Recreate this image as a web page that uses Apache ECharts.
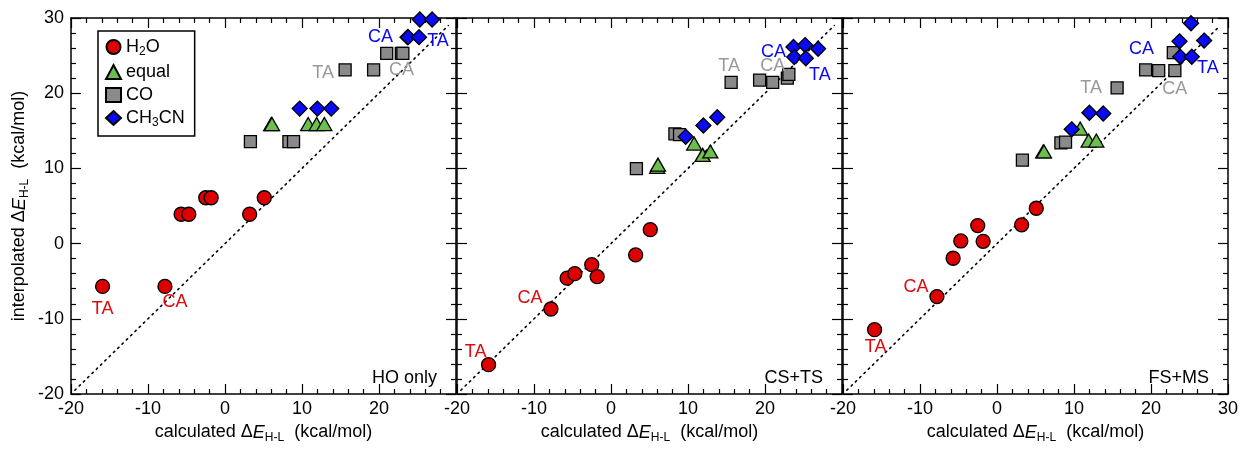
<!DOCTYPE html>
<html><head><meta charset="utf-8">
<script src="https://cdn.jsdelivr.net/npm/echarts@6/dist/echarts.min.js"></script>
<style>html,body{margin:0;padding:0;background:#fff}#c{width:1241px;height:449px}</style>
</head><body><div id="c"></div><script>
// ---- data ----
const panelNames = ['HO only', 'CS+TS', 'FS+MS'];
const seriesNames = ['H2O', 'equal', 'CO', 'CH3CN'];
const axisMin = -20, axisMax = 30, axisStep = 10;
const diagonal = [-19.5, 29];

const h2oX      = [-15.9, -7.8, -5.7, -4.7, -2.5, -1.8, 3.2, 5.1];
const h2oY_HO   = [-5.7, -5.7, 3.9, 3.9, 6.1, 6.1, 3.9, 6.1];
const h2oY_CS   = [-16.1, -8.7, -4.6, -4.0, -2.8, -4.4, -1.5, 1.85];
const h2oY_FS   = [-11.45, -7.05, -1.95, 0.35, 2.4, 0.3, 2.5, 4.7];

const equalX    = [6.0, 6.1, 10.8, 11.9, 12.9];
const equalY_HO = [15.9, 15.9, 15.9, 15.9, 15.9];
const equalY_CS = [10.2, 10.5, 13.3, 11.8, 12.25];
const equalY_FS = [12.25, 12.25, 15.3, 13.7, 13.7];

const coX       = [3.3, 8.3, 8.9, 15.6, 19.3, 21.0, 22.9, 23.1];
const coY_HO    = [13.55, 13.55, 13.55, 23.1, 23.1, 25.3, 25.3, 25.3];
const coY_CS    = [9.96, 14.6, 14.5, 21.45, 21.75, 21.45, 22.0, 22.5];
const coY_FS    = [11.1, 13.4, 13.5, 20.7, 23.1, 23.0, 25.4, 23.0];

const ch3cnX    = [9.7, 12.0, 13.8, 23.7, 23.8, 25.2, 25.3, 26.9];
const ch3cnY_HO = [17.95, 17.95, 17.95, 27.45, 27.45, 27.45, 29.8, 29.8];
const ch3cnY_CS = [14.2, 15.7, 16.8, 26.15, 24.8, 26.4, 24.65, 25.9];
const ch3cnY_FS = [15.2, 17.4, 17.3, 26.9, 24.85, 29.3, 24.85, 27.0];

const xs = [h2oX, equalX, coX, ch3cnX];
const ysByPanel = [
  [h2oY_HO, equalY_HO, coY_HO, ch3cnY_HO],
  [h2oY_CS, equalY_CS, coY_CS, ch3cnY_CS],
  [h2oY_FS, equalY_FS, coY_FS, ch3cnY_FS]
];

// annotation labels: [series index, point index, text]
const annoPoints = [
  [[0,0,'TA'],[0,1,'CA'],[2,3,'TA'],[2,4,'CA'],[3,3,'CA'],[3,5,'TA']],
  [[0,0,'TA'],[0,1,'CA'],[2,3,'TA'],[2,5,'CA'],[3,3,'CA'],[3,6,'TA']],
  [[0,0,'TA'],[0,1,'CA'],[2,3,'TA'],[2,7,'CA'],[3,3,'CA'],[3,6,'TA']]
];
// pixel offsets of those labels from their points (layout)
const annoOffsets = [
  [[0,23],[10,16],[-22,3],[28,0],[-27,0],[19,4]],
  [[-13,-13],[-21,-11],[-2,-16],[0,-16],[-20,5],[14,17]],
  [[1,17],[-21,-10],[-26,0],[0,18],[-38,8],[16,11]]
];

// ---- styles ----
const FONT = 'Liberation Sans';
const colors = ['#dd0000', '#6cbf4f', '#8a8a8a', '#0a0af5'];
const labelColors = ['#dd0b0b', '#6cbf4f', '#999999', '#0808f0'];
const symbols = ['circle', 'triangle', 'rect', 'diamond'];
const sizes = [14, [15, 13], 12, 15];
const gridLefts = [71, 457, 843];
const gridW = 385, gridTop = 18, gridH = 386;

const rich = {
  n: {fontSize: 18, fontFamily: FONT, color: '#000'},
  i: {fontSize: 18, fontFamily: FONT, color: '#000', fontStyle: 'italic'},
  s: {fontSize: 12, fontFamily: FONT, color: '#000', padding: [11, 0, 0, 0]}
};
const xName = '{n|calculated Δ}{i|E}{s|H-L}{n|  (kcal/mol)}';
const yName = '{n|interpolated Δ}{i|E}{s|H-L}{n|  (kcal/mol)}';

const grids = [], xAxes = [], yAxes = [], series = [], titles = [];
const axisLine = {show: true, onZero: false, lineStyle: {color: '#000', width: 1.5}};
const tick = {show: true, inside: true, length: 10, lineStyle: {color: '#000', width: 1.2}};
const minor = {show: true, splitNumber: 5, length: 5, lineStyle: {color: '#000', width: 1.2}};

for (let p = 0; p < 3; p++) {
  grids.push({left: gridLefts[p], top: gridTop, width: gridW, height: gridH});
  const base = {type: 'value', min: axisMin, max: axisMax, interval: axisStep, gridIndex: p,
    axisLine, axisTick: tick, minorTick: minor, splitLine: {show: false}};
  xAxes.push(Object.assign({}, base, {position: 'bottom',
    axisLabel: {fontSize: 18, fontFamily: FONT, color: '#000', margin: 6, showMaxLabel: p === 2},
    name: xName, nameLocation: 'middle', nameGap: 27, nameTextStyle: {rich}}));
  xAxes.push(Object.assign({}, base, {position: 'top', axisLabel: {show: false}}));
  yAxes.push(Object.assign({}, base, {position: 'left',
    axisLabel: {show: p === 0, fontSize: 18, fontFamily: FONT, color: '#000', margin: 7},
    name: p === 0 ? yName : '', nameLocation: 'middle', nameGap: 40, nameRotate: 90,
    nameTextStyle: {rich}}));
  yAxes.push(Object.assign({}, base, {position: 'right', axisLabel: {show: false}}));

  // diagonal y = x
  series.push({type: 'line', xAxisIndex: 2 * p, yAxisIndex: 2 * p, symbol: 'none', silent: true,
    data: diagonal.map(v => [v, v]),
    lineStyle: {color: '#000', width: 1.6, type: [1.6, 4.4], cap: 'round'}, z: 1});

  for (let s = 0; s < 4; s++) {
    series.push({type: 'scatter', name: seriesNames[s], xAxisIndex: 2 * p, yAxisIndex: 2 * p,
      symbol: symbols[s], symbolSize: sizes[s],
      itemStyle: {color: colors[s], borderColor: '#000', borderWidth: 1.3, opacity: 1},
      data: xs[s].map((x, k) => [x, ysByPanel[p][s][k]]), z: 3 + s});
  }

  // annotation labels anchored to data points
  annoPoints[p].forEach((a, k) => {
    const [s, idx, txt] = a;
    series.push({type: 'scatter', xAxisIndex: 2 * p, yAxisIndex: 2 * p, silent: true,
      symbolSize: 0, itemStyle: {opacity: 1}, data: [[xs[s][idx], ysByPanel[p][s][idx]]], z: 10,
      label: {show: true, position: 'inside', formatter: txt, offset: annoOffsets[p][k],
        color: labelColors[s], opacity: 1, fontSize: 18, fontFamily: FONT}});
  });

  titles.push({text: panelNames[p], right: 1241 - (gridLefts[p] + gridW - 19), bottom: 62, padding: 0,
    textStyle: {fontSize: 18, fontWeight: 'normal', fontFamily: FONT, color: '#000'}});
}

const legendRich = {
  n: {fontSize: 18, fontFamily: FONT, color: '#000'},
  s: {fontSize: 12, fontFamily: FONT, color: '#000', padding: [10, 0, 0, 0]}
};
const legendText = {H2O: '{n|H}{s|2}{n|O}', equal: '{n|equal}', CO: '{n|CO}', CH3CN: '{n|CH}{s|3}{n|CN}'};

const chart = echarts.init(document.getElementById('c'), null, {renderer: 'canvas'});
chart.setOption({
  animation: false,
  backgroundColor: '#fff',
  title: titles,
  grid: grids,
  xAxis: xAxes,
  yAxis: yAxes,
  legend: {data: seriesNames, orient: 'vertical', left: 98, top: 31, padding: [7, 10, 7, 7],
    itemGap: 5, itemWidth: 15, itemHeight: 14, itemTextGap: 8,
    borderColor: '#000', borderWidth: 1.5, backgroundColor: '#fff',
    formatter: n => legendText[n], textStyle: {rich: legendRich}},
  series
});
</script></body></html>
